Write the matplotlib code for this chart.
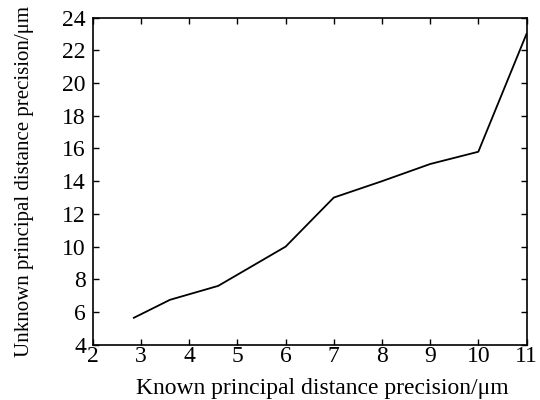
import matplotlib.pyplot as plt

plt.rcParams['font.family'] = ['Liberation Serif', 'DejaVu Serif']
plt.rcParams['mathtext.fontset'] = 'stix'

# known vs unknown principal distance precision (um)
known = [2.85, 3.6, 4.6, 6.0, 6.7, 7.0, 8.0, 9.0, 10.0, 11.0]
unknown = [5.65, 6.75, 7.6, 10.0, 12.1, 13.0, 14.0, 15.05, 15.8, 23.0]
xticks = list(range(2, 12))
yticks = list(range(4, 25, 2))

fig = plt.figure(figsize=(5.4, 4.0), dpi=100)
ax = fig.add_axes([0.172, 0.138, 0.803, 0.818])
ax.plot(known, unknown, color='black', linewidth=1.3)
ax.set_xlim(2, 11)
ax.set_ylim(4, 24)
ax.set_xticks(xticks)
ax.set_yticks(yticks)
ax.tick_params(direction='in', top=True, right=True, length=4, width=1,
               labelsize=17)
ax.tick_params(axis='x', pad=1)
ax.tick_params(axis='y', pad=5)
for s in ax.spines.values():
    s.set_linewidth(1.2)
ax.set_xlabel('Known principal distance precision/μm', fontsize=17, labelpad=7)
ax.xaxis.set_label_coords(0.53, -0.1)
ax.xaxis.label.set_va('top')
ax.set_ylabel('Unknown principal distance precision/μm', fontsize=15, labelpad=20)
fig.savefig('out.png', dpi=100)
